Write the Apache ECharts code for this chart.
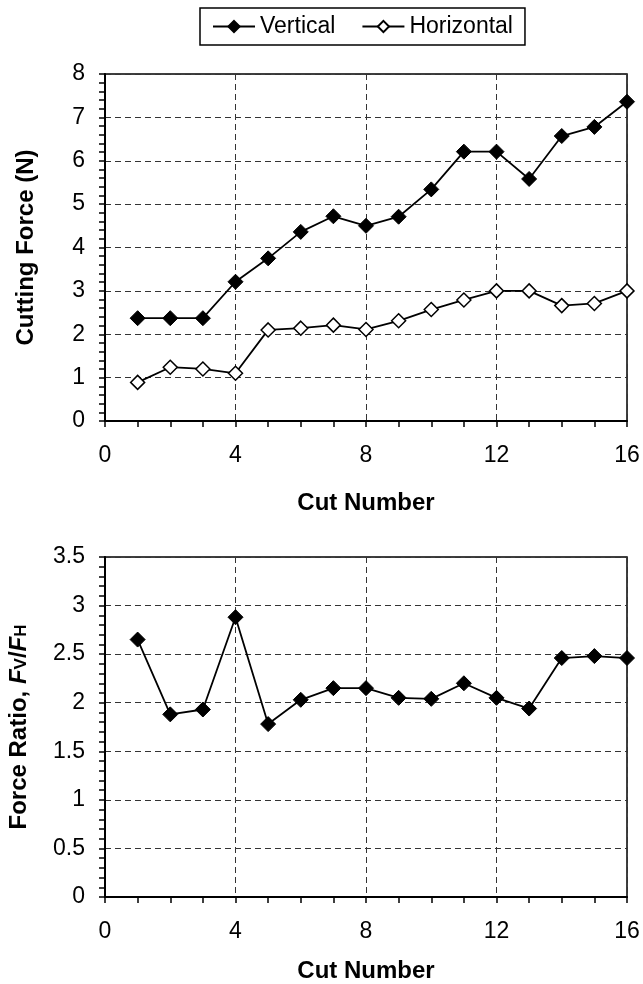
<!DOCTYPE html>
<html>
<head>
<meta charset="utf-8">
<script src="https://cdn.jsdelivr.net/npm/echarts@6/dist/echarts.min.js"></script>
<style>
  html, body { margin: 0; padding: 0; background: #fff; }
  #chart { width: 643px; height: 984px; }
</style>
</head>
<body>
<div id="chart"></div>
<script>
// cut numbers and measured values
var cuts = [1, 2, 3, 4, 5, 6, 7, 8, 9, 10, 11, 12, 13, 14, 15, 16];
var vertical = [2.37, 2.37, 2.37, 3.21, 3.75, 4.36, 4.72, 4.50, 4.71, 5.34, 6.21, 6.21, 5.58, 6.57, 6.78, 7.36];
var horizontal = [0.89, 1.24, 1.20, 1.10, 2.10, 2.14, 2.21, 2.11, 2.31, 2.57, 2.79, 3.00, 3.00, 2.66, 2.71, 3.00];
var ratio = [2.65, 1.88, 1.93, 2.88, 1.78, 2.03, 2.15, 2.15, 2.05, 2.04, 2.20, 2.05, 1.94, 2.46, 2.48, 2.46];

var font = 'Liberation Sans, Arial, sans-serif';

function pairs(ys) {
  var out = [];
  for (var i = 0; i < cuts.length; i++) {
    out.push([cuts[i], ys[i]]);
  }
  return out;
}

function xAxisFor(gridIndex, gap) {
  return {
    gridIndex: gridIndex,
    type: 'value',
    min: 0, max: 16, interval: 4,
    name: 'Cut Number',
    nameLocation: 'middle',
    nameGap: gap,
    nameTextStyle: { fontFamily: font, fontSize: 24, fontWeight: 'bold', color: '#000' },
    axisLine: { lineStyle: { color: '#000', width: 2 } },
    axisTick: { inside: false, length: 6, lineStyle: { color: '#000', width: 1.5 } },
    minorTick: { show: true, splitNumber: 4, length: 6, lineStyle: { color: '#000', width: 1.5 } },
    axisLabel: { fontFamily: font, fontSize: 23, color: '#000', margin: 23 },
    splitLine: { show: true, lineStyle: { color: '#333', type: [6, 4], width: 1 } }
  };
}

function yAxisFor(gridIndex, max, step, minorSplit, name, gap) {
  return {
    gridIndex: gridIndex,
    type: 'value',
    min: 0, max: max, interval: step,
    name: name,
    nameLocation: 'middle',
    nameGap: gap,
    nameTextStyle: {
      fontFamily: font, fontSize: 24, fontWeight: 'bold', color: '#000',
      rich: {
        b: { fontFamily: font, fontSize: 24, fontWeight: 'bold', color: '#000' },
        i: { fontFamily: font, fontSize: 24, fontWeight: 'bold', fontStyle: 'italic', color: '#000' },
        s: { fontFamily: font, fontSize: 17, fontWeight: 'bold', color: '#000', padding: [4, 0, 0, 0] }
      }
    },
    axisLine: { lineStyle: { color: '#000', width: 2 } },
    axisTick: { inside: false, length: 6, lineStyle: { color: '#000', width: 1.5 } },
    minorTick: { show: true, splitNumber: minorSplit, length: 6, lineStyle: { color: '#000', width: 1.5 } },
    axisLabel: { fontFamily: font, fontSize: 23, color: '#000', margin: 20 },
    splitLine: { show: true, lineStyle: { color: '#333', type: [6, 4], width: 1 } }
  };
}

var chart = echarts.init(document.getElementById('chart'), null, { renderer: 'canvas' });

var option = {
  animation: false,
  backgroundColor: '#fff',
  legend: {
    left: 200, top: 8,
    data: ['Vertical', 'Horizontal'],
    borderColor: '#000', borderWidth: 1.5,
    padding: [7, 12, 7, 12],
    itemGap: 26, itemWidth: 42, itemHeight: 14,
    textStyle: { fontFamily: font, fontSize: 23, color: '#000' }
  },
  grid: [
    { left: 105, right: 16, top: 74, height: 347, outerBoundsMode: 'none', show: true, borderColor: '#000', borderWidth: 1.5 },
    { left: 105, right: 16, top: 557, height: 340, outerBoundsMode: 'none', show: true, borderColor: '#000', borderWidth: 1.5 }
  ],
  xAxis: [xAxisFor(0, 70), xAxisFor(1, 62)],
  yAxis: [
    yAxisFor(0, 8, 1, 5, 'Cutting Force (N)', 67),
    yAxisFor(1, 3.5, 0.5, 5, '{b|Force Ratio, }{i|F}{s|V}{b|/}{i|F}{s|H}', 74)
  ],
  series: [
    {
      name: 'Vertical', type: 'line', xAxisIndex: 0, yAxisIndex: 0,
      data: pairs(vertical),
      symbol: 'diamond', symbolSize: 15,
      itemStyle: { color: '#000', borderColor: '#000', borderWidth: 1 },
      lineStyle: { color: '#000', width: 1.8 }
    },
    {
      name: 'Horizontal', type: 'line', xAxisIndex: 0, yAxisIndex: 0,
      data: pairs(horizontal),
      symbol: 'diamond', symbolSize: 14,
      itemStyle: { color: '#fff', borderColor: '#000', borderWidth: 1.5 },
      lineStyle: { color: '#000', width: 1.8 }
    },
    {
      name: 'Ratio', type: 'line', xAxisIndex: 1, yAxisIndex: 1,
      data: pairs(ratio),
      symbol: 'diamond', symbolSize: 15,
      itemStyle: { color: '#000', borderColor: '#000', borderWidth: 1 },
      lineStyle: { color: '#000', width: 1.8 }
    }
  ]
};

chart.setOption(option);
</script>
</body>
</html>
